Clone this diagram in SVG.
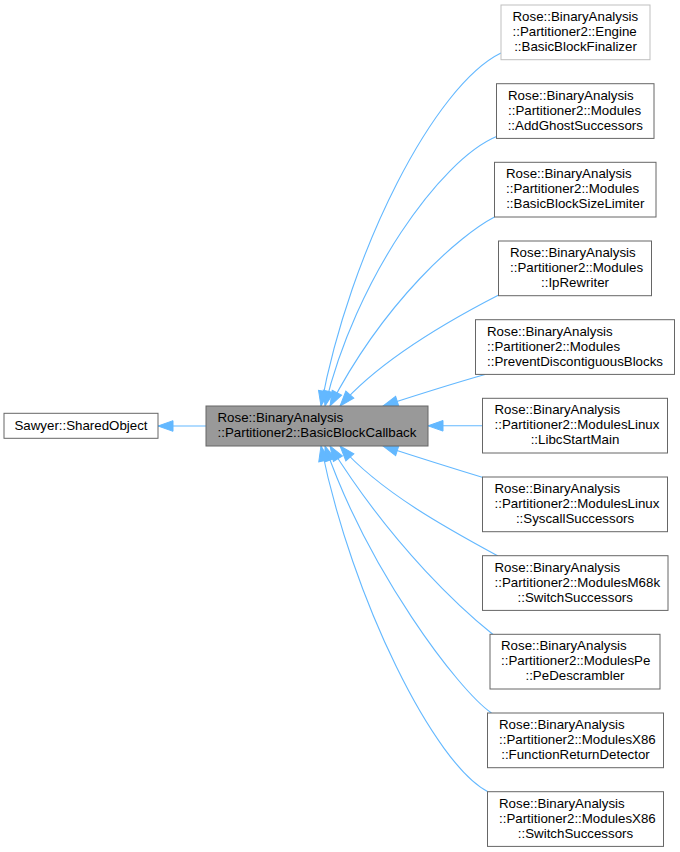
<svg xmlns="http://www.w3.org/2000/svg" width="680" height="852" viewBox="0 0 680 852">
<style>
text{font-family:"Liberation Sans",Arial,Helvetica,sans-serif;font-size:13.3px;fill:#000}
.c{text-anchor:middle}
.box{fill:#fff;stroke:#666;stroke-width:1}
.faint{fill:#fff;stroke:#bfbfbf;stroke-width:1}
.focus{fill:#999;stroke:#666;stroke-width:1}
.edge{fill:none;stroke:#63b8ff;stroke-width:1.1;marker-end:url(#ah)}
</style>
<defs>
<marker id="ah" markerUnits="userSpaceOnUse" markerWidth="16" markerHeight="12" refX="15" refY="6" orient="auto" overflow="visible">
<path d="M0,0.7 L15,6 L0,11.3 z" fill="#63b8ff" stroke="#63b8ff" stroke-width="1"/>
</marker>
</defs>
<rect width="680" height="852" fill="#fff"/>
<g id="edges">
<path class="edge" d="M206,426 L158,426"/>
<path class="edge" d="M482.5,425.8 L428,425.8"/>
<path class="edge" d="M485,374.5 C455,383 420,394 383,406"/>
<path class="edge" d="M483,477.5 C455,469 420,458 383,446"/>
<path class="edge" d="M498.7,295 C450,320 380,360 340,406"/>
<path class="edge" d="M494.5,217 C460,235 385,300 330,406"/>
<path class="edge" d="M496.5,136.5 C440,160 355,280 325,406"/>
<path class="edge" d="M501,53 C435,85 350,250 321,406"/>
<path class="edge" d="M498,556 C450,530 380,492 340,446"/>
<path class="edge" d="M493,634.5 C465,612 395,550 330,446"/>
<path class="edge" d="M491.5,713 C458,690 368,570 325,446"/>
<path class="edge" d="M488,791.7 C435,765 352,600 321,446"/>
</g>
<g id="sawyer">
<rect class="box" x="4" y="413.3" width="154" height="25"/>
<text class="c" x="81" y="430">Sawyer::SharedObject</text>
</g>
<g id="callback">
<rect class="focus" x="206" y="406" width="222" height="40"/>
<text x="217.5" y="422.3">Rose::BinaryAnalysis</text>
<text class="c" x="317" y="437">::Partitioner2::BasicBlockCallback</text>
</g>
<g id="finalizer">
<rect class="faint" x="501" y="5" width="149" height="54.7"/>
<text x="512.5" y="21">Rose::BinaryAnalysis</text>
<text x="512.5" y="36">::Partitioner2::Engine</text>
<text class="c" x="575.5" y="51">::BasicBlockFinalizer</text>
</g>
<g id="addghost">
<rect class="box" x="496.5" y="83.7" width="157.5" height="54.7"/>
<text x="508" y="99.7">Rose::BinaryAnalysis</text>
<text x="508" y="114.7">::Partitioner2::Modules</text>
<text class="c" x="575.25" y="129.7">::AddGhostSuccessors</text>
</g>
<g id="sizelimiter">
<rect class="box" x="494.5" y="162.3" width="161.5" height="54.7"/>
<text x="506" y="178.3">Rose::BinaryAnalysis</text>
<text x="506" y="193.3">::Partitioner2::Modules</text>
<text class="c" x="575.25" y="208.3">::BasicBlockSizeLimiter</text>
</g>
<g id="iprewriter">
<rect class="box" x="498.5" y="241" width="153" height="54.7"/>
<text x="510" y="257">Rose::BinaryAnalysis</text>
<text x="510" y="272">::Partitioner2::Modules</text>
<text class="c" x="575" y="287">::IpRewriter</text>
</g>
<g id="prevent">
<rect class="box" x="475.5" y="319.7" width="199" height="54.7"/>
<text x="487" y="335.7">Rose::BinaryAnalysis</text>
<text x="487" y="350.7">::Partitioner2::Modules</text>
<text class="c" x="575" y="365.7">::PreventDiscontiguousBlocks</text>
</g>
<g id="libcstartmain">
<rect class="box" x="482.5" y="398.3" width="185" height="54.7"/>
<text x="494.5" y="414.3">Rose::BinaryAnalysis</text>
<text x="494.5" y="429.3">::Partitioner2::ModulesLinux</text>
<text class="c" x="575" y="444.3">::LibcStartMain</text>
</g>
<g id="syscall">
<rect class="box" x="482.5" y="477" width="185" height="54.7"/>
<text x="494.5" y="493">Rose::BinaryAnalysis</text>
<text x="494.5" y="508">::Partitioner2::ModulesLinux</text>
<text class="c" x="575" y="523">::SyscallSuccessors</text>
</g>
<g id="m68kswitch">
<rect class="box" x="482.5" y="555.7" width="185.5" height="54.7"/>
<text x="494.5" y="571.7">Rose::BinaryAnalysis</text>
<text x="494.5" y="586.7">::Partitioner2::ModulesM68k</text>
<text class="c" x="575.25" y="601.7">::SwitchSuccessors</text>
</g>
<g id="pedescrambler">
<rect class="box" x="490" y="634.3" width="170" height="54.7"/>
<text x="501" y="650.3">Rose::BinaryAnalysis</text>
<text x="501" y="665.3">::Partitioner2::ModulesPe</text>
<text class="c" x="575" y="680.3">::PeDescrambler</text>
</g>
<g id="functionreturn">
<rect class="box" x="487.5" y="713" width="176" height="54.7"/>
<text x="499" y="729">Rose::BinaryAnalysis</text>
<text x="499" y="744">::Partitioner2::ModulesX86</text>
<text class="c" x="575.5" y="759">::FunctionReturnDetector</text>
</g>
<g id="x86switch">
<rect class="box" x="487.5" y="791.7" width="176" height="54.7"/>
<text x="499" y="807.7">Rose::BinaryAnalysis</text>
<text x="499" y="822.7">::Partitioner2::ModulesX86</text>
<text class="c" x="575.5" y="837.7">::SwitchSuccessors</text>
</g>
</svg>
